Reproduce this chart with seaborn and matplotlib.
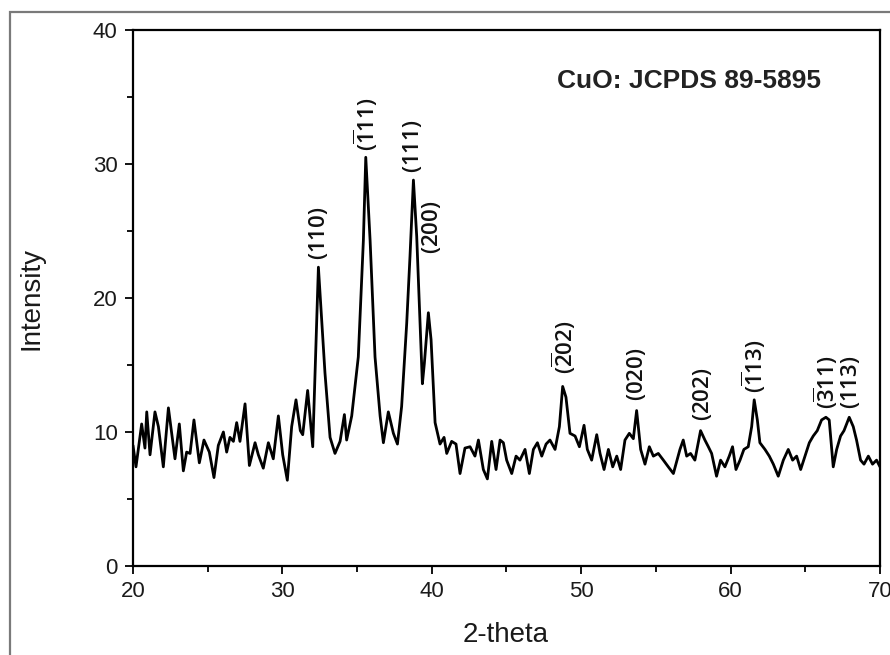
import matplotlib
matplotlib.use("Agg")
import matplotlib.pyplot as plt
import matplotlib.patches as mpatches
from matplotlib.ticker import MultipleLocator
import seaborn as sns
import pandas as pd

# ---- data (2-theta in degrees, intensity) ----
two_theta = [
    20.0, 20.2, 20.58, 20.8, 20.92, 21.14, 21.47, 21.7, 22.03, 22.37,
    22.81, 23.1, 23.37, 23.59, 23.82, 24.08, 24.44, 24.75, 25.11, 25.42,
    25.71, 26.05, 26.27, 26.49, 26.72, 26.94, 27.16, 27.5, 27.79, 28.17,
    28.39, 28.72, 29.06, 29.39, 29.73, 30.02, 30.33, 30.62, 30.91, 31.2,
    31.36, 31.69, 32.03, 32.41, 32.85, 33.19, 33.52, 33.86, 34.15, 34.3,
    34.64, 35.08, 35.42, 35.58, 35.87, 36.2, 36.54, 36.76, 37.09, 37.43,
    37.7, 37.98, 38.32, 38.54, 38.77, 38.99, 39.17, 39.37, 39.5, 39.77,
    39.95, 40.22, 40.55, 40.82, 41.0, 41.33, 41.62, 41.89, 42.22, 42.56,
    42.89, 43.12, 43.45, 43.72, 44.01, 44.3, 44.57, 44.79, 45.01, 45.35,
    45.64, 45.9, 46.24, 46.53, 46.8, 47.07, 47.36, 47.65, 47.91, 48.25,
    48.54, 48.76, 48.98, 49.25, 49.59, 49.88, 50.19, 50.41, 50.7, 51.04,
    51.26, 51.53, 51.82, 52.11, 52.38, 52.64, 52.93, 53.22, 53.49, 53.71,
    53.98, 54.27, 54.56, 54.83, 55.16, 55.5, 55.83, 56.17, 56.61, 56.83,
    57.06, 57.32, 57.61, 57.99, 58.28, 58.51, 58.73, 59.06, 59.33, 59.62,
    59.91, 60.13, 60.36, 60.63, 60.89, 61.18, 61.41, 61.58, 61.79, 61.96,
    62.3, 62.59, 62.86, 63.19, 63.53, 63.86, 64.15, 64.42, 64.69, 64.98,
    65.27, 65.53, 65.8, 66.09, 66.38, 66.6, 66.87, 67.1, 67.36, 67.59,
    67.94, 68.21, 68.43, 68.7, 68.93, 69.22, 69.5, 69.77, 70.0,
]
intensity = [
    9.0, 7.4, 10.6, 8.8, 11.5, 8.3, 11.5, 10.4, 7.4, 11.8,
    8.0, 10.6, 7.1, 8.5, 8.4, 10.9, 7.7, 9.4, 8.5, 6.6,
    9.0, 10.0, 8.5, 9.6, 9.3, 10.7, 9.3, 12.1, 7.5, 9.2,
    8.3, 7.3, 9.2, 8.0, 11.2, 8.3, 6.4, 10.4, 12.4, 10.1,
    9.8, 13.1, 8.9, 22.3, 14.4, 9.6, 8.4, 9.3, 11.3, 9.4,
    11.2, 15.6, 24.3, 30.5, 24.3, 15.6, 11.2, 9.2, 11.5, 9.9,
    9.1, 11.9, 18.1, 23.1, 28.8, 24.6, 19.3, 13.6, 15.1, 18.9,
    16.9, 10.7, 9.1, 9.6, 8.4, 9.3, 9.1, 6.9, 8.8, 8.9,
    8.2, 9.4, 7.2, 6.5, 9.3, 7.2, 9.4, 9.2, 7.9, 6.9,
    8.2, 7.9, 8.7, 6.9, 8.7, 9.2, 8.2, 9.1, 9.4, 8.7,
    10.4, 13.4, 12.6, 9.9, 9.7, 8.9, 10.5, 8.7, 7.9, 9.8,
    8.4, 7.2, 8.7, 7.4, 8.2, 7.2, 9.4, 9.9, 9.5, 11.6,
    8.7, 7.6, 8.9, 8.2, 8.4, 7.9, 7.4, 6.9, 8.7, 9.4,
    8.2, 8.4, 7.9, 10.1, 9.4, 8.9, 8.4, 6.7, 7.9, 7.4,
    8.2, 8.9, 7.2, 7.9, 8.7, 8.9, 10.4, 12.4, 10.9, 9.2,
    8.7, 8.2, 7.6, 6.7, 7.9, 8.7, 7.9, 8.2, 7.2, 8.2,
    9.2, 9.7, 10.1, 10.9, 11.1, 10.9, 7.4, 8.7, 9.7, 10.1,
    11.1, 10.4, 9.4, 7.9, 7.6, 8.2, 7.6, 7.9, 7.4,
]

# ---- peak annotations ----
peak_labels = [r"$(110)$", r"$(\overline{1}11)$", r"$(111)$", r"$(200)$",
               r"$(\overline{2}02)$", r"$(020)$", r"$(202)$",
               r"$(\overline{1}13)$", r"$(\overline{3}11)$", r"$(113)$"]
peak_x = [32.4, 35.55, 38.72, 39.95, 48.8, 53.72, 58.1, 61.58, 66.35, 68.0]
peak_y = [22.8, 31.0, 29.3, 23.3, 14.3, 12.3, 10.8, 12.9, 11.7, 11.7]

annotation = "CuO: JCPDS 89-5895"
x_ticks = [20, 30, 40, 50, 60, 70]
y_ticks = [0, 10, 20, 30, 40]

# ---- styling ----
sns.set_theme(style="white")
plt.rcParams["font.family"] = ["Liberation Sans", "DejaVu Sans"]
plt.rcParams["mathtext.fontset"] = "custom"
plt.rcParams["mathtext.rm"] = "Open Sans:semibold"
plt.rcParams["mathtext.it"] = "Open Sans:italic"
plt.rcParams["mathtext.bf"] = "Open Sans:bold"

fig = plt.figure(figsize=(8.9, 6.55), dpi=100)
ax = fig.add_axes([133 / 890, 1 - 566 / 655, (880 - 133) / 890, (566 - 30) / 655])

df = pd.DataFrame({"2-theta": two_theta, "Intensity": intensity})
sns.lineplot(data=df, x="2-theta", y="Intensity", ax=ax, color="black",
             linewidth=2.0, estimator=None, sort=True)

ax.set_xlim(20, 70)
ax.set_ylim(0, 40)
ax.set_xticks(x_ticks)
ax.set_yticks(y_ticks)
ax.xaxis.set_minor_locator(MultipleLocator(5))
ax.yaxis.set_minor_locator(MultipleLocator(5))
ax.tick_params(axis="both", which="major", direction="out", length=6, width=1.3,
               labelsize=16, color="black", labelcolor="#1a1a1a", pad=5,
               bottom=True, left=True, top=False, right=False)
ax.tick_params(axis="both", which="minor", direction="out", length=4, width=1.3,
               color="black", bottom=True, left=True, top=False, right=False)

for side in ["left", "bottom", "top", "right"]:
    ax.spines[side].set_visible(True)
    ax.spines[side].set_color("black")
    ax.spines[side].set_linewidth(1.6)

ax.set_xlabel("2-theta", fontsize=20, color="#1a1a1a")
ax.set_ylabel("Intensity", fontsize=20, color="#1a1a1a")
ax.xaxis.set_label_coords((506 - 133) / 747, -0.105)
ax.yaxis.set_label_coords(-0.118, 0.5)

for lab, px, py in zip(peak_labels, peak_x, peak_y):
    ax.text(px, py, lab, rotation=90, ha="center", va="bottom",
            fontsize=16, color="#111111")

ax.text(48.4, 36.2, annotation, ha="left", va="center", fontsize=19,
        fontweight="bold", color="#222222")

# outer frame of the figure panel
frame = mpatches.Rectangle((10 / 890, -0.05), 1.2, 1 - 12 / 655 + 0.05,
                           transform=fig.transFigure, fill=False,
                           edgecolor="#7a7a7a", linewidth=1.6, clip_on=False)
fig.patches.append(frame)

fig.savefig("out.png", dpi=100)
